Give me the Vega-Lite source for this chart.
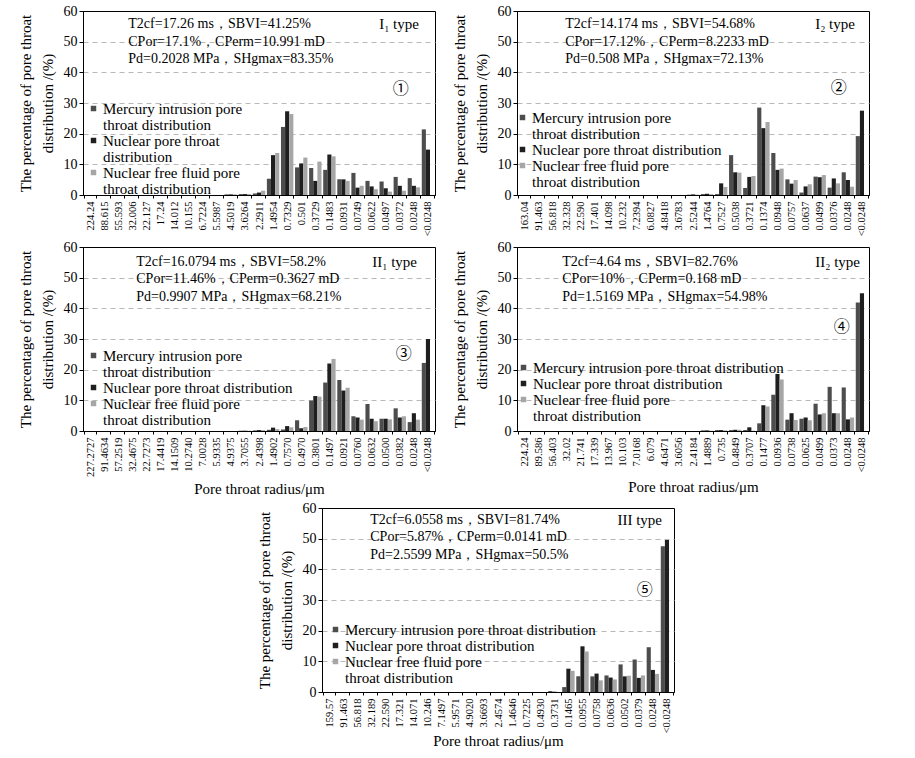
{
"$schema": "https://vega.github.io/schema/vega-lite/v6.json",
"background": "white",
"autosize": {"type": "pad"},
"padding": {"left": 17, "top": 3, "right": 53, "bottom": 8},
"data": {"values": [
{"p":1,"r":"224.24","m":0,"n":0,"f":0},{"p":1,"r":"88.615","m":0,"n":0,"f":0},{"p":1,"r":"55.593","m":0,"n":0,"f":0},{"p":1,"r":"32.006","m":0,"n":0,"f":0},{"p":1,"r":"22.127","m":0,"n":0,"f":0},{"p":1,"r":"17.24","m":0,"n":0,"f":0},{"p":1,"r":"14.012","m":0,"n":0,"f":0},{"p":1,"r":"10.155","m":0,"n":0,"f":0},{"p":1,"r":"6.7224","m":0,"n":0,"f":0},{"p":1,"r":"5.5987","m":0,"n":0,"f":0},{"p":1,"r":"4.5019","m":0.2,"n":0.2,"f":0.2},{"p":1,"r":"3.6264","m":0.3,"n":0.3,"f":0.3},{"p":1,"r":"2.2911","m":0.5,"n":0.8,"f":1.4},{"p":1,"r":"1.4954","m":5.3,"n":13.0,"f":13.7},{"p":1,"r":"0.7329","m":22.2,"n":27.3,"f":26.4},{"p":1,"r":"0.501","m":9.0,"n":10.3,"f":12.2},{"p":1,"r":"0.3729","m":8.8,"n":4.6,"f":10.9},{"p":1,"r":"0.1483","m":8.2,"n":13.2,"f":12.6},{"p":1,"r":"0.0931","m":5.1,"n":5.1,"f":4.6},{"p":1,"r":"0.0749","m":7.2,"n":2.4,"f":3.0},{"p":1,"r":"0.0622","m":4.6,"n":2.8,"f":1.9},{"p":1,"r":"0.0497","m":4.4,"n":2.2,"f":1.1},{"p":1,"r":"0.0372","m":5.9,"n":3.0,"f":1.4},{"p":1,"r":"0.0248","m":5.5,"n":3.0,"f":2.5},{"p":1,"r":"<0.0248","m":21.4,"n":14.8,"f":0},
{"p":2,"r":"163.04","m":0,"n":0,"f":0},{"p":2,"r":"91.463","m":0,"n":0,"f":0},{"p":2,"r":"56.818","m":0,"n":0,"f":0},{"p":2,"r":"32.328","m":0,"n":0,"f":0},{"p":2,"r":"22.590","m":0,"n":0,"f":0},{"p":2,"r":"17.401","m":0,"n":0,"f":0},{"p":2,"r":"14.098","m":0,"n":0,"f":0},{"p":2,"r":"10.232","m":0,"n":0,"f":0},{"p":2,"r":"7.2394","m":0,"n":0,"f":0},{"p":2,"r":"6.0827","m":0,"n":0,"f":0},{"p":2,"r":"4.8418","m":0,"n":0,"f":0},{"p":2,"r":"3.6783","m":0,"n":0,"f":0},{"p":2,"r":"2.5244","m":0.1,"n":0.2,"f":0.1},{"p":2,"r":"1.4764","m":0.3,"n":0.4,"f":0.3},{"p":2,"r":"0.7527","m":0.3,"n":3.8,"f":2.6},{"p":2,"r":"0.5038","m":13.0,"n":7.4,"f":7.3},{"p":2,"r":"0.3721","m":2.3,"n":5.9,"f":6.2},{"p":2,"r":"0.1374","m":28.5,"n":21.8,"f":23.8},{"p":2,"r":"0.0948","m":13.7,"n":8.2,"f":8.6},{"p":2,"r":"0.0757","m":5.1,"n":3.7,"f":4.9},{"p":2,"r":"0.0637","m":0.8,"n":2.8,"f":3.5},{"p":2,"r":"0.0499","m":6.0,"n":5.8,"f":6.5},{"p":2,"r":"0.0376","m":2.4,"n":5.4,"f":3.8},{"p":2,"r":"0.0248","m":7.4,"n":4.9,"f":2.7},{"p":2,"r":"<0.0248","m":19.2,"n":27.5,"f":0},
{"p":3,"r":"227.2727","m":0,"n":0,"f":0},{"p":3,"r":"91.4634","m":0,"n":0,"f":0},{"p":3,"r":"57.2519","m":0,"n":0,"f":0},{"p":3,"r":"32.4675","m":0,"n":0,"f":0},{"p":3,"r":"22.7273","m":0,"n":0,"f":0},{"p":3,"r":"17.4419","m":0,"n":0,"f":0},{"p":3,"r":"14.1509","m":0,"n":0,"f":0},{"p":3,"r":"10.2740","m":0,"n":0,"f":0},{"p":3,"r":"7.0028","m":0,"n":0,"f":0},{"p":3,"r":"5.9335","m":0,"n":0,"f":0},{"p":3,"r":"4.9375","m":0,"n":0,"f":0},{"p":3,"r":"3.7055","m":0.1,"n":0.1,"f":0.1},{"p":3,"r":"2.4398","m":0.2,"n":0.3,"f":0.3},{"p":3,"r":"1.4902","m":0.4,"n":1.1,"f":0.6},{"p":3,"r":"0.7570","m":0.5,"n":1.6,"f":1.2},{"p":3,"r":"0.4970","m":3.5,"n":0.9,"f":1.3},{"p":3,"r":"0.3801","m":9.9,"n":11.4,"f":11.2},{"p":3,"r":"0.1497","m":15.8,"n":22.0,"f":23.5},{"p":3,"r":"0.0921","m":16.6,"n":13.2,"f":14.1},{"p":3,"r":"0.0760","m":4.8,"n":4.4,"f":3.7},{"p":3,"r":"0.0632","m":8.8,"n":4.0,"f":3.2},{"p":3,"r":"0.0500","m":4.0,"n":4.0,"f":3.8},{"p":3,"r":"0.0382","m":7.4,"n":4.4,"f":4.8},{"p":3,"r":"0.0248","m":2.9,"n":5.8,"f":3.7},{"p":3,"r":"<0.0248","m":22.2,"n":30.0,"f":0},
{"p":4,"r":"224.24","m":0,"n":0,"f":0},{"p":4,"r":"89.586","m":0,"n":0,"f":0},{"p":4,"r":"56.403","m":0,"n":0,"f":0},{"p":4,"r":"32.02","m":0,"n":0,"f":0},{"p":4,"r":"21.741","m":0,"n":0,"f":0},{"p":4,"r":"17.339","m":0,"n":0,"f":0},{"p":4,"r":"13.967","m":0,"n":0,"f":0},{"p":4,"r":"10.103","m":0,"n":0,"f":0},{"p":4,"r":"7.0168","m":0,"n":0,"f":0},{"p":4,"r":"6.079","m":0,"n":0,"f":0},{"p":4,"r":"4.6471","m":0,"n":0,"f":0},{"p":4,"r":"3.6056","m":0,"n":0,"f":0},{"p":4,"r":"2.4184","m":0,"n":0,"f":0},{"p":4,"r":"1.4889","m":0.2,"n":0.2,"f":0.1},{"p":4,"r":"0.735","m":0.3,"n":0.3,"f":0.2},{"p":4,"r":"0.4849","m":0.3,"n":0.4,"f":0.4},{"p":4,"r":"0.3707","m":0.3,"n":1.2,"f":0.1},{"p":4,"r":"0.1477","m":2.5,"n":8.4,"f":8.0},{"p":4,"r":"0.0936","m":11.8,"n":18.6,"f":16.8},{"p":4,"r":"0.0738","m":3.7,"n":5.8,"f":3.6},{"p":4,"r":"0.0625","m":4.0,"n":4.4,"f":3.5},{"p":4,"r":"0.0499","m":8.9,"n":5.4,"f":5.8},{"p":4,"r":"0.0373","m":14.4,"n":5.8,"f":5.8},{"p":4,"r":"0.0248","m":14.2,"n":3.8,"f":4.4},{"p":4,"r":"<0.0248","m":41.9,"n":44.9,"f":0},
{"p":5,"r":"159.57","m":0,"n":0,"f":0},{"p":5,"r":"91.463","m":0,"n":0,"f":0},{"p":5,"r":"56.818","m":0,"n":0,"f":0},{"p":5,"r":"32.189","m":0,"n":0,"f":0},{"p":5,"r":"22.590","m":0,"n":0,"f":0},{"p":5,"r":"17.321","m":0,"n":0,"f":0},{"p":5,"r":"14.071","m":0,"n":0,"f":0},{"p":5,"r":"10.246","m":0,"n":0,"f":0},{"p":5,"r":"7.1497","m":0,"n":0,"f":0},{"p":5,"r":"5.9571","m":0,"n":0,"f":0},{"p":5,"r":"4.9020","m":0,"n":0,"f":0},{"p":5,"r":"3.6693","m":0,"n":0,"f":0},{"p":5,"r":"2.4574","m":0,"n":0,"f":0},{"p":5,"r":"1.4646","m":0,"n":0,"f":0},{"p":5,"r":"0.7225","m":0,"n":0,"f":0},{"p":5,"r":"0.4930","m":0,"n":0,"f":0},{"p":5,"r":"0.3731","m":0.3,"n":0.1,"f":0},{"p":5,"r":"0.1465","m":1.6,"n":7.6,"f":6.9},{"p":5,"r":"0.0955","m":5.1,"n":14.9,"f":13.2},{"p":5,"r":"0.0758","m":5.1,"n":6.0,"f":3.8},{"p":5,"r":"0.0636","m":5.4,"n":4.7,"f":4.1},{"p":5,"r":"0.0502","m":9.0,"n":5.1,"f":5.3},{"p":5,"r":"0.0379","m":10.6,"n":4.6,"f":5.4},{"p":5,"r":"0.0248","m":14.6,"n":7.2,"f":5.9},{"p":5,"r":"<0.0248","m":47.5,"n":49.6,"f":0}
]},
"spacing": 3,
"resolve": {"scale": {"color": "independent"}, "legend": {"color": "independent"}},
"vconcat": [
{
"spacing": 2,
"resolve": {"scale": {"color": "independent"}, "legend": {"color": "independent"}},
"vconcat": [
{
"hconcat": [
{
"width": 352, "height": 184,
"layer": [
{"transform": [{"filter": "datum.p == 1"}, {"fold": ["m","n","f"], "as": ["s","v"]}],
"mark": {"type": "bar"},
"encoding": {
"x": {"field": "r", "type": "nominal", "scale": {"domain": ["224.24","88.615","55.593","32.006","22.127","17.24","14.012","10.155","6.7224","5.5987","4.5019","3.6264","2.2911","1.4954","0.7329","0.501","0.3729","0.1483","0.0931","0.0749","0.0622","0.0497","0.0372","0.0248","<0.0248"], "paddingInner": 0.12, "paddingOuter": 0.06}, "axis": {"title": null}},
"xOffset": {"field": "s", "type": "nominal", "scale": {"domain": ["m","n","f"], "paddingInner": 0, "paddingOuter": 0}},
"y": {"field": "v", "type": "quantitative", "scale": {"domain": [0, 60], "nice": false}, "axis": {"title": ["The percentage of pore throat", "distribution /(%)"], "gridOpacity": {"condition": {"test": "datum.value >= 60 || datum.value <= 0", "value": 0}, "value": 1}}},
"color": {"field": "s", "type": "nominal", "scale": {"domain": ["m","m2","n","n2","f","f2"], "range": ["#4d4d4d","transparent","#1f1f1f","transparent","#a6a6a6","transparent"]}, "legend": {"title": null, "orient": "none", "legendX": 3, "legendY": 90, "labelExpr": "datum.label == 'm' ? 'Mercury intrusion pore' : datum.label == 'm2' ? 'throat distribution' : datum.label == 'n' ? 'Nuclear pore throat' : datum.label == 'n2' ? 'distribution' : datum.label == 'f' ? 'Nuclear free fluid pore' : 'throat distribution'"}}
}},
{"data": {"values": [{}]}, "mark": {"type": "text", "text": ["T2cf=17.26 ms，SBVI=41.25%", "CPor=17.1%，CPerm=10.991 mD", "Pd=0.2028 MPa，SHgmax=83.35%"], "font": "Liberation Serif", "align": "left", "baseline": "top", "lineHeight": 17.5, "fontSize": 14, "dx": -4},
 "encoding": {"x": {"datum": "32.006", "type": "nominal"}, "y": {"datum": 58, "type": "quantitative"}}},
{"data": {"values": [{}]}, "mark": {"type": "text", "text": "I₁ type", "font": "Liberation Serif", "align": "right", "baseline": "middle", "fontSize": 15, "dx": -9},
 "encoding": {"x": {"datum": "<0.0248", "type": "nominal"}, "y": {"datum": 55.8, "type": "quantitative"}}},
{"data": {"values": [{}]}, "mark": {"type": "text", "text": "①", "align": "center", "baseline": "middle", "fontSize": 16, "font": "Noto Sans CJK SC", "dx": 1},
 "encoding": {"x": {"datum": "0.0372", "type": "nominal"}, "y": {"datum": 34.6, "type": "quantitative"}}}
]
},
{
"width": 352, "height": 184,
"layer": [
{"transform": [{"filter": "datum.p == 2"}, {"fold": ["m","n","f"], "as": ["s","v"]}],
"mark": {"type": "bar"},
"encoding": {
"x": {"field": "r", "type": "nominal", "scale": {"domain": ["163.04","91.463","56.818","32.328","22.590","17.401","14.098","10.232","7.2394","6.0827","4.8418","3.6783","2.5244","1.4764","0.7527","0.5038","0.3721","0.1374","0.0948","0.0757","0.0637","0.0499","0.0376","0.0248","<0.0248"], "paddingInner": 0.12, "paddingOuter": 0.06}, "axis": {"title": null}},
"xOffset": {"field": "s", "type": "nominal", "scale": {"domain": ["m","n","f"], "paddingInner": 0, "paddingOuter": 0}},
"y": {"field": "v", "type": "quantitative", "scale": {"domain": [0, 60], "nice": false}, "axis": {"title": ["The percentage of pore throat", "distribution /(%)"], "gridOpacity": {"condition": {"test": "datum.value >= 60 || datum.value <= 0", "value": 0}, "value": 1}}},
"color": {"field": "s", "type": "nominal", "scale": {"domain": ["m","m2","n","f","f2"], "range": ["#4d4d4d","transparent","#1f1f1f","#a6a6a6","transparent"]}, "legend": {"title": null, "orient": "none", "legendX": -2, "legendY": 99, "labelExpr": "datum.label == 'm' ? 'Mercury intrusion pore' : datum.label == 'm2' ? 'throat distribution' : datum.label == 'n' ? 'Nuclear pore throat distribution' : datum.label == 'f' ? 'Nuclear free fluid pore' : 'throat distribution'"}}
}},
{"data": {"values": [{}]}, "mark": {"type": "text", "text": ["T2cf=14.174 ms，SBVI=54.68%", "CPor=17.12%，CPerm=8.2233 mD", "Pd=0.508 MPa，SHgmax=72.13%"], "font": "Liberation Serif", "align": "left", "baseline": "top", "lineHeight": 17.5, "fontSize": 14, "dx": -1},
 "encoding": {"x": {"datum": "32.328", "type": "nominal"}, "y": {"datum": 58, "type": "quantitative"}}},
{"data": {"values": [{}]}, "mark": {"type": "text", "text": "I₂ type", "font": "Liberation Serif", "align": "right", "baseline": "middle", "fontSize": 15, "dx": -7},
 "encoding": {"x": {"datum": "<0.0248", "type": "nominal"}, "y": {"datum": 55.8, "type": "quantitative"}}},
{"data": {"values": [{}]}, "mark": {"type": "text", "text": "②", "align": "center", "baseline": "middle", "fontSize": 16, "font": "Noto Sans CJK SC", "dx": 5},
 "encoding": {"x": {"datum": "0.0376", "type": "nominal"}, "y": {"datum": 34.9, "type": "quantitative"}}}
]
}
],
"spacing": 15,
"resolve": {"scale": {"color": "independent"}, "legend": {"color": "independent"}}
},
{
"hconcat": [
{
"width": 352, "height": 184,
"layer": [
{"transform": [{"filter": "datum.p == 3"}, {"fold": ["m","n","f"], "as": ["s","v"]}],
"mark": {"type": "bar"},
"encoding": {
"x": {"field": "r", "type": "nominal", "scale": {"domain": ["227.2727","91.4634","57.2519","32.4675","22.7273","17.4419","14.1509","10.2740","7.0028","5.9335","4.9375","3.7055","2.4398","1.4902","0.7570","0.4970","0.3801","0.1497","0.0921","0.0760","0.0632","0.0500","0.0382","0.0248","<0.0248"], "paddingInner": 0.12, "paddingOuter": 0.06}, "axis": {"title": "Pore throat radius/μm", "titleY": 50}},
"xOffset": {"field": "s", "type": "nominal", "scale": {"domain": ["m","n","f"], "paddingInner": 0, "paddingOuter": 0}},
"y": {"field": "v", "type": "quantitative", "scale": {"domain": [0, 60], "nice": false}, "axis": {"title": ["The percentage of pore throat", "distribution /(%)"], "gridOpacity": {"condition": {"test": "datum.value >= 60 || datum.value <= 0", "value": 0}, "value": 1}}},
"color": {"field": "s", "type": "nominal", "scale": {"domain": ["m","m2","n","f","f2"], "range": ["#4d4d4d","transparent","#1f1f1f","#a6a6a6","transparent"]}, "legend": {"title": null, "orient": "none", "legendX": 3, "legendY": 101, "labelExpr": "datum.label == 'm' ? 'Mercury intrusion pore' : datum.label == 'm2' ? 'throat distribution' : datum.label == 'n' ? 'Nuclear pore throat distribution' : datum.label == 'f' ? 'Nuclear free fluid pore' : 'throat distribution'"}}
}},
{"data": {"values": [{}]}, "mark": {"type": "text", "text": ["T2cf=16.0794 ms，SBVI=58.2%", "CPor=11.46%，CPerm=0.3627 mD", "Pd=0.9907 MPa，SHgmax=68.21%"], "font": "Liberation Serif", "align": "left", "baseline": "top", "lineHeight": 17.5, "fontSize": 14, "dx": 4},
 "encoding": {"x": {"datum": "32.4675", "type": "nominal"}, "y": {"datum": 57.4, "type": "quantitative"}}},
{"data": {"values": [{}]}, "mark": {"type": "text", "text": "II₁ type", "font": "Liberation Serif", "align": "right", "baseline": "middle", "fontSize": 15, "dx": -11},
 "encoding": {"x": {"datum": "<0.0248", "type": "nominal"}, "y": {"datum": 55.1, "type": "quantitative"}}},
{"data": {"values": [{}]}, "mark": {"type": "text", "text": "③", "align": "center", "baseline": "middle", "fontSize": 16, "font": "Noto Sans CJK SC", "dx": 4},
 "encoding": {"x": {"datum": "0.0382", "type": "nominal"}, "y": {"datum": 25.1, "type": "quantitative"}}}
]
},
{
"width": 352, "height": 184,
"layer": [
{"transform": [{"filter": "datum.p == 4"}, {"fold": ["m","n","f"], "as": ["s","v"]}],
"mark": {"type": "bar"},
"encoding": {
"x": {"field": "r", "type": "nominal", "scale": {"domain": ["224.24","89.586","56.403","32.02","21.741","17.339","13.967","10.103","7.0168","6.079","4.6471","3.6056","2.4184","1.4889","0.735","0.4849","0.3707","0.1477","0.0936","0.0738","0.0625","0.0499","0.0373","0.0248","<0.0248"], "paddingInner": 0.12, "paddingOuter": 0.06}, "axis": {"title": "Pore throat radius/μm", "titleY": 48}},
"xOffset": {"field": "s", "type": "nominal", "scale": {"domain": ["m","n","f"], "paddingInner": 0, "paddingOuter": 0}},
"y": {"field": "v", "type": "quantitative", "scale": {"domain": [0, 60], "nice": false}, "axis": {"title": ["The percentage of pore throat", "distribution /(%)"], "gridOpacity": {"condition": {"test": "datum.value >= 60 || datum.value <= 0", "value": 0}, "value": 1}}},
"color": {"field": "s", "type": "nominal", "scale": {"domain": ["m","n","f","f2"], "range": ["#4d4d4d","#1f1f1f","#a6a6a6","transparent"]}, "legend": {"title": null, "orient": "none", "legendX": -1, "legendY": 113, "labelExpr": "datum.label == 'm' ? 'Mercury intrusion pore throat distribution' : datum.label == 'n' ? 'Nuclear pore throat distribution' : datum.label == 'f' ? 'Nuclear free fluid pore' : 'throat distribution'"}}
}},
{"data": {"values": [{}]}, "mark": {"type": "text", "text": ["T2cf=4.64 ms，SBVI=82.76%", "CPor=10%，CPerm=0.168 mD", "Pd=1.5169 MPa，SHgmax=54.98%"], "font": "Liberation Serif", "align": "left", "baseline": "top", "lineHeight": 17.5, "fontSize": 14, "dx": -4},
 "encoding": {"x": {"datum": "32.02", "type": "nominal"}, "y": {"datum": 57.4, "type": "quantitative"}}},
{"data": {"values": [{}]}, "mark": {"type": "text", "text": "II₂ type", "font": "Liberation Serif", "align": "right", "baseline": "middle", "fontSize": 15, "dx": -2},
 "encoding": {"x": {"datum": "<0.0248", "type": "nominal"}, "y": {"datum": 55.1, "type": "quantitative"}}},
{"data": {"values": [{}]}, "mark": {"type": "text", "text": "④", "align": "center", "baseline": "middle", "fontSize": 16, "font": "Noto Sans CJK SC", "dx": 8},
 "encoding": {"x": {"datum": "0.0373", "type": "nominal"}, "y": {"datum": 33.9, "type": "quantitative"}}}
]
}
],
"spacing": 15,
"resolve": {"scale": {"color": "independent"}, "legend": {"color": "independent"}}
}
]
},
{
"hconcat": [
{"width": 158, "height": 184, "view": {"stroke": null}, "data": {"values": [{}]}, "mark": {"type": "point", "opacity": 0}},
{
"width": 352, "height": 184,
"layer": [
{"transform": [{"filter": "datum.p == 5"}, {"fold": ["m","n","f"], "as": ["s","v"]}],
"mark": {"type": "bar"},
"encoding": {
"x": {"field": "r", "type": "nominal", "scale": {"domain": ["159.57","91.463","56.818","32.189","22.590","17.321","14.071","10.246","7.1497","5.9571","4.9020","3.6693","2.4574","1.4646","0.7225","0.4930","0.3731","0.1465","0.0955","0.0758","0.0636","0.0502","0.0379","0.0248","<0.0248"], "paddingInner": 0.12, "paddingOuter": 0.06}, "axis": {"title": "Pore throat radius/μm", "titleY": 41}},
"xOffset": {"field": "s", "type": "nominal", "scale": {"domain": ["m","n","f"], "paddingInner": 0, "paddingOuter": 0}},
"y": {"field": "v", "type": "quantitative", "scale": {"domain": [0, 60], "nice": false}, "axis": {"title": ["The percentage of pore throat", "distribution /(%)"], "gridOpacity": {"condition": {"test": "datum.value >= 60 || datum.value <= 0", "value": 0}, "value": 1}}},
"color": {"field": "s", "type": "nominal", "scale": {"domain": ["m","n","f","f2"], "range": ["#4d4d4d","#1f1f1f","#a6a6a6","transparent"]}, "legend": {"title": null, "orient": "none", "legendX": 6, "legendY": 114, "labelExpr": "datum.label == 'm' ? 'Mercury intrusion pore throat distribution' : datum.label == 'n' ? 'Nuclear pore throat distribution' : datum.label == 'f' ? 'Nuclear free fluid pore' : 'throat distribution'"}}
}},
{"data": {"values": [{}]}, "mark": {"type": "text", "text": ["T2cf=6.0558 ms，SBVI=81.74%", "CPor=5.87%，CPerm=0.0141 mD", "Pd=2.5599 MPa，SHgmax=50.5%"], "font": "Liberation Serif", "align": "left", "baseline": "top", "lineHeight": 17.5, "fontSize": 14, "dx": -1},
 "encoding": {"x": {"datum": "32.189", "type": "nominal"}, "y": {"datum": 58.4, "type": "quantitative"}}},
{"data": {"values": [{}]}, "mark": {"type": "text", "text": "III type", "font": "Liberation Serif", "align": "right", "baseline": "middle", "fontSize": 15, "dx": -5},
 "encoding": {"x": {"datum": "<0.0248", "type": "nominal"}, "y": {"datum": 56.1, "type": "quantitative"}}},
{"data": {"values": [{}]}, "mark": {"type": "text", "text": "⑤", "align": "center", "baseline": "middle", "fontSize": 16, "font": "Noto Sans CJK SC", "dx": 6},
 "encoding": {"x": {"datum": "0.0379", "type": "nominal"}, "y": {"datum": 33.3, "type": "quantitative"}}}
]
}
],
"spacing": 15,
"resolve": {"scale": {"color": "independent"}, "legend": {"color": "independent"}}
}
],
"config": {
"font": "Liberation Serif",
"view": {"stroke": "black", "strokeWidth": 1},
"text": {"font": "Liberation Serif", "color": "black"},
"axis": {"labelFont": "Liberation Serif", "titleFont": "Liberation Serif", "labelColor": "black", "titleColor": "black", "domainColor": "black", "tickColor": "black", "titleFontWeight": "normal"},
"axisX": {"labelAngle": 270, "labelFontSize": 10.5, "labelPadding": 3, "tickBand": "extent", "tickSize": 3, "titleFontSize": 15, "domain": true},
"axisY": {"labelFontSize": 14, "tickSize": 4, "labelPadding": 2, "titleFontSize": 15, "titleLineHeight": 22, "titlePadding": 8, "grid": true, "gridDash": [5,4], "gridColor": "#b8b8b8", "values": [0,10,20,30,40,50,60]},
"legend": {"labelFont": "Liberation Serif", "labelFontSize": 15, "labelColor": "black", "symbolType": "square", "symbolSize": 30, "symbolStrokeWidth": 0, "rowPadding": 0, "padding": 0, "labelLimit": 400, "labelOffset": 2}
}
}
